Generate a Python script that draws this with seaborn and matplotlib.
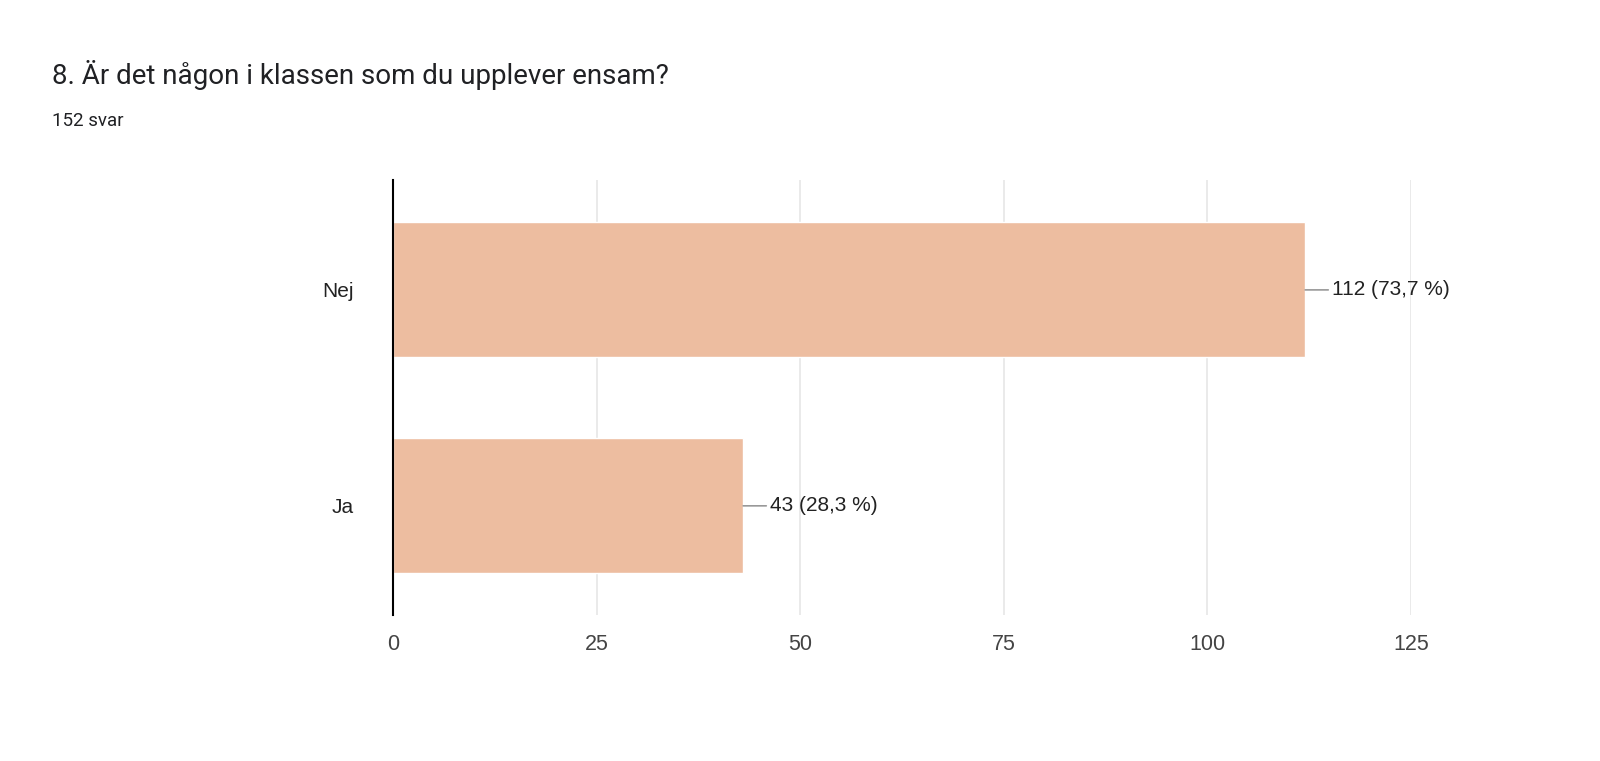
import matplotlib
matplotlib.use("Agg")
import matplotlib.pyplot as plt
import seaborn as sns
import pandas as pd

categories = ["Nej", "Ja"]
values = [112, 43]
labels = ["112 (73,7 %)", "43 (28,3 %)"]
xticks = [0, 25, 50, 75, 100, 125]

sns.set_theme(style="white")
plt.rcParams['font.family'] = ['Liberation Sans', 'DejaVu Sans']

fig = plt.figure(figsize=(16, 7.61), dpi=100)
ax = fig.add_axes([0.2456, 0.192, 0.8819 - 0.2456, 0.5715])
df = pd.DataFrame({"cat": categories, "val": values})
sns.barplot(data=df, x="val", y="cat", color="#EDBDA0", saturation=1, width=0.625, ax=ax)

ax.set_xlim(0, 125)
ax.set_ylim(1.505, -0.509)
ax.set_xticks(xticks)
ax.set_xticklabels([str(t) for t in xticks], fontsize=15.5, color="#444444")
ax.tick_params(axis="y", labelsize=15, colors="#222222", length=0, pad=28)
ax.tick_params(axis="x", length=0, pad=14)
ax.set_xlabel("")
ax.set_ylabel("")
ax.grid(axis="x", color="#e6e6e6", linewidth=1.2)
ax.set_axisbelow(True)
for s in ["top", "right", "bottom"]:
    ax.spines[s].set_visible(False)
ax.spines["left"].set_color("black")
ax.spines["left"].set_linewidth(1.5)
ax.spines["left"].set_zorder(5)

for i, (v, lab) in enumerate(zip(values, labels)):
    ax.annotate(lab, xy=(v, i), xytext=(19, 0), textcoords="offset points",
                va="center", ha="left", fontsize=15, color="#222222",
                arrowprops=dict(arrowstyle="-", color="#999999", lw=1.2, shrinkA=0, shrinkB=0))

fig.text(52 / 1600, 1 - 75 / 761, "8. Är det någon i klassen som du upplever ensam?",
         fontsize=20, family=["Roboto", "DejaVu Sans"], color="#202124", va="center")
fig.text(52 / 1600, 1 - 121 / 761, "152 svar", fontsize=13.5,
         family=["Roboto", "DejaVu Sans"], color="#202124", va="center")

fig.savefig("out.png", dpi=100, facecolor="white")
